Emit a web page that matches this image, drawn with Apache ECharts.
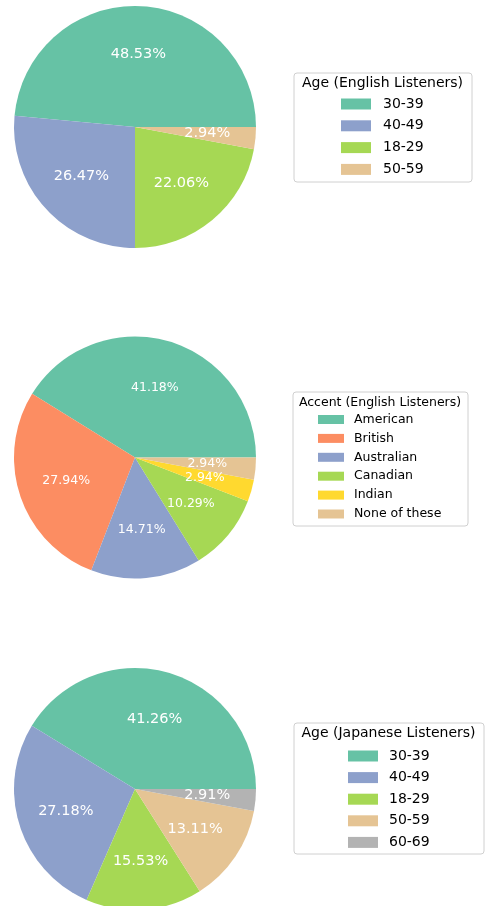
<!DOCTYPE html>
<html>
<head>
<meta charset="utf-8">
<script src="https://cdn.jsdelivr.net/npm/echarts@6/dist/echarts.min.js"></script>
<style>
  html, body { margin: 0; padding: 0; background: #fff; }
  #main { width: 485px; height: 906px; }
</style>
</head>
<body>
<div id="main"></div>
<script>
// data
var ageEnCats = ['30-39', '40-49', '18-29', '50-59'];
var ageEnCounts = [33, 18, 15, 2];

var accentCats = ['American', 'British', 'Australian', 'Canadian', 'Indian', 'None of these'];
var accentCounts = [28, 19, 10, 7, 2, 2];

var ageJpCats = ['30-39', '40-49', '18-29', '50-59', '60-69'];
var ageJpCounts = [85, 56, 32, 27, 6];

// Set2 palette, matched per category
var colorOf = {
  '30-39': '#66c2a5', '40-49': '#8da0cb', '18-29': '#a6d854', '50-59': '#e5c494', '60-69': '#b3b3b3',
  'American': '#66c2a5', 'British': '#fc8d62', 'Australian': '#8da0cb',
  'Canadian': '#a6d854', 'Indian': '#ffd92f', 'None of these': '#e5c494'
};

var FONT = 'DejaVu Sans';
var R = 121;

function items(cats, vals) {
  return cats.map(function (c, i) {
    return { name: c, value: vals[i], itemStyle: { color: colorOf[c] } };
  });
}

// visible pie without labels
function pie(cats, vals, cy) {
  return {
    type: 'pie', center: [135, cy], radius: [0, R],
    startAngle: 0, clockwise: false,
    label: { show: false }, labelLine: { show: false },
    emphasis: { disabled: true },
    data: items(cats, vals)
  };
}

// transparent ring only to place the labels further out, like matplotlib
function labels(vals, cy, fs) {
  var total = vals.reduce(function (a, b) { return a + b; }, 0);
  return {
    type: 'pie', center: [135, cy], radius: [R * 0.15, R],
    startAngle: 0, clockwise: false, silent: true,
    avoidLabelOverlap: false,
    itemStyle: { color: 'rgba(0,0,0,0)' },
    labelLine: { show: false },
    label: {
      show: true, position: 'inside', color: '#fff',
      fontFamily: FONT, fontSize: fs,
      // plain rounding (no largest-remainder fix)
      formatter: function (p) { return (p.value / total * 100).toFixed(2) + '%'; }
    },
    emphasis: { disabled: true },
    data: vals.map(function (v) { return { value: v }; })
  };
}

function legend(cats, left, top, fs, lh, iw, ih, gap, pad) {
  return {
    orient: 'vertical', left: left, top: top, padding: 0,
    icon: 'rect', itemWidth: iw, itemHeight: ih, itemGap: gap,
    selectedMode: false,
    textStyle: { fontFamily: FONT, fontSize: fs, lineHeight: lh, color: '#000', padding: [0, 0, 0, pad] },
    data: cats
  };
}

function box(x, y, w, h, title, fs) {
  return [
    { type: 'rect', left: x, top: y, shape: { width: w, height: h, r: 3 },
      style: { fill: '#fff', stroke: '#d0d0d0', lineWidth: 1 }, z: -1 },
    { type: 'text', x: x + w / 2, y: y + 11,
      style: { text: title, fill: '#000', font: fs + 'px "' + FONT + '"', textAlign: 'center', textVerticalAlign: 'middle' } }
  ];
}

var myChart = echarts.init(document.getElementById('main'), null, { renderer: 'canvas' });
myChart.setOption({
  animation: false,
  backgroundColor: '#fff',
  legend: [
    legend(ageEnCats, 341, 97, 14, 14, 30, 11, 7.8, 7),
    legend(accentCats, 318, 413, 12.5, 12, 26, 9, 5.9, 5),
    legend(ageJpCats, 348, 749, 14, 14, 30, 11, 7.6, 6)
  ],
  graphic: [].concat(
    box(293.5, 72.5, 178, 109, 'Age (English Listeners)', 14),
    box(292.5, 391.5, 175, 134, 'Accent (English Listeners)', 12.5),
    box(293.5, 722.5, 190, 131, 'Age (Japanese Listeners)', 14)
  ),
  series: [
    pie(ageEnCats, ageEnCounts, 127),
    pie(accentCats, accentCounts, 457.5),
    pie(ageJpCats, ageJpCounts, 789),
    labels(ageEnCounts, 127, 14.5),
    labels(accentCounts, 457.5, 12.5),
    labels(ageJpCounts, 789, 14.5)
  ]
});
</script>
</body>
</html>
